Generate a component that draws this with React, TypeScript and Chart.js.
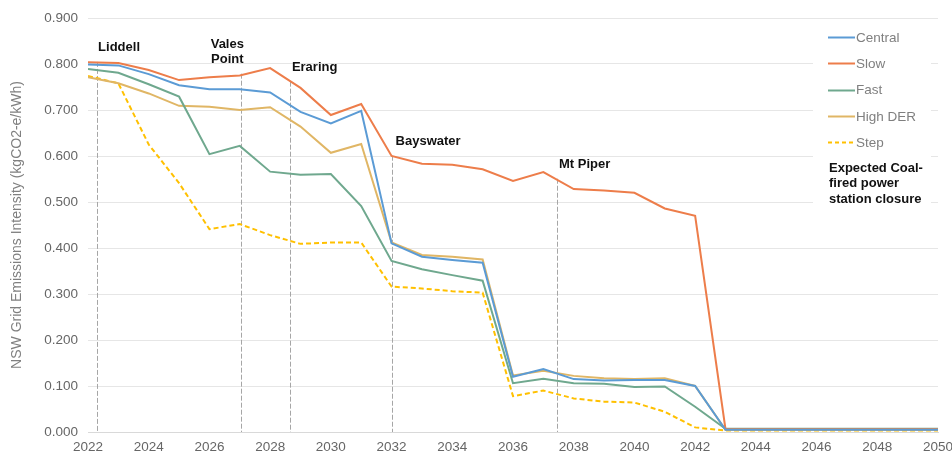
import React, { useEffect, useRef } from "react";
import { Chart, registerables } from "chart.js";

Chart.register(...registerables);

const years = [2022, 2023, 2024, 2025, 2026, 2027, 2028, 2029, 2030, 2031, 2032, 2033, 2034, 2035, 2036, 2037, 2038, 2039, 2040, 2041, 2042, 2043, 2044, 2045, 2046, 2047, 2048, 2049, 2050];

const central = [0.799, 0.797, 0.778, 0.754, 0.745, 0.745, 0.738, 0.696, 0.671, 0.698, 0.410, 0.381, 0.374, 0.368, 0.120, 0.137, 0.115, 0.112, 0.113, 0.113, 0.100, 0.005, 0.005, 0.005, 0.005, 0.005, 0.005, 0.005, 0.005];
const slow = [0.804, 0.802, 0.787, 0.765, 0.771, 0.775, 0.791, 0.748, 0.689, 0.713, 0.600, 0.583, 0.581, 0.571, 0.546, 0.565, 0.528, 0.525, 0.520, 0.486, 0.470, 0.006, 0.006, 0.006, 0.006, 0.006, 0.006, 0.006, 0.006];
const fast = [0.789, 0.781, 0.756, 0.729, 0.604, 0.622, 0.566, 0.559, 0.561, 0.491, 0.372, 0.354, 0.341, 0.329, 0.106, 0.116, 0.106, 0.105, 0.098, 0.099, 0.055, 0.007, 0.007, 0.007, 0.007, 0.007, 0.007, 0.007, 0.007];
const highDer = [0.771, 0.758, 0.736, 0.709, 0.707, 0.700, 0.706, 0.664, 0.607, 0.626, 0.412, 0.385, 0.381, 0.375, 0.123, 0.133, 0.122, 0.117, 0.115, 0.117, 0.100, 0.005, 0.005, 0.005, 0.005, 0.005, 0.005, 0.005, 0.005];
const step = [0.774, 0.758, 0.625, 0.541, 0.441, 0.452, 0.428, 0.409, 0.412, 0.412, 0.316, 0.312, 0.306, 0.303, 0.078, 0.090, 0.073, 0.066, 0.064, 0.044, 0.010, 0.003, 0.003, 0.003, 0.003, 0.003, 0.003, 0.003, 0.003];

const seriesNames = ["Central", "Slow", "Fast", "High DER", "Step"];
const seriesColors = ["#5b9bd5", "#ed7d4a", "#6fa88e", "#e0b665", "#ffc000"];

const closureNames = ["Liddell", "Vales\nPoint", "Eraring", "Bayswater", "Mt Piper"];
const closureYears = [2022.3, 2027.05, 2028.65, 2032.0, 2037.45];
// label layout (value-axis height of first text line, x offset px, alignment)
const closureLabelValues = [0.835, 0.842, 0.792, 0.631, 0.581];
const closureLabelDx = [1, -14, 2, 4, 2];
const closureLabelAlign: CanvasTextAlign[] = ["left", "center", "left", "left", "left"];

const legendNote = ["Expected Coal-", "fired power", "station closure"];

const FONT = "'Liberation Sans', Arial, sans-serif";

export default function App() {
  const ref = useRef<HTMLCanvasElement | null>(null);

  useEffect(() => {
    if (!ref.current) return;
    const allData = [central, slow, fast, highDer, step];

    const overlay = {
      id: "overlay",
      beforeDatasetsDraw(chart: any) {
        const { ctx, scales, chartArea } = chart;
        const xs = scales.x;
        const ys = scales.y;
        ctx.save();
        closureYears.forEach((yr, i) => {
          const x = Math.round(xs.getPixelForValue(yr)) + 0.5;
          const lines = closureNames[i].split("\n");
          const labY = ys.getPixelForValue(closureLabelValues[i]);
          const top = labY + (lines.length - 1) * 15 + 14;
          ctx.strokeStyle = "#a6a6a6";
          ctx.lineWidth = 1;
          ctx.setLineDash([5, 2]);
          ctx.beginPath();
          ctx.moveTo(x, top);
          ctx.lineTo(x, chartArea.bottom);
          ctx.stroke();
        });
        ctx.restore();
      },
      afterDatasetsDraw(chart: any) {
        const { ctx, scales } = chart;
        const xs = scales.x;
        const ys = scales.y;
        ctx.save();
        ctx.setLineDash([]);
        ctx.font = "bold 13px " + FONT;
        ctx.fillStyle = "#111";
        ctx.textBaseline = "middle";
        closureYears.forEach((yr, i) => {
          const x = xs.getPixelForValue(yr) + closureLabelDx[i];
          const labY = ys.getPixelForValue(closureLabelValues[i]);
          ctx.textAlign = closureLabelAlign[i];
          closureNames[i].split("\n").forEach((t, j) => {
            ctx.fillText(t, x, labY + j * 15);
          });
        });

        // legend
        const lx = 828;
        ctx.fillStyle = "#ffffff";
        ctx.fillRect(813, 24, 118, 190);
        seriesNames.forEach((name, i) => {
          const y = 37 + i * 26.3;
          ctx.strokeStyle = seriesColors[i];
          ctx.lineWidth = 2;
          ctx.setLineDash(i === 4 ? [4, 3] : []);
          ctx.beginPath();
          ctx.moveTo(lx, Math.round(y) + 0.5);
          ctx.lineTo(lx + 27, Math.round(y) + 0.5);
          ctx.stroke();
          ctx.setLineDash([]);
          ctx.fillStyle = "#7f7f7f";
          ctx.font = "13.5px " + FONT;
          ctx.textAlign = "left";
          ctx.fillText(name, lx + 28, y + 1);
        });
        ctx.fillStyle = "#111";
        ctx.font = "bold 13px " + FONT;
        legendNote.forEach((t, j) => {
          ctx.fillText(t, lx + 1, 168 + j * 15.5);
        });
        ctx.restore();
      },
    };

    const chart = new Chart(ref.current, {
      type: "line",
      data: {
        datasets: allData.map((d, i) => ({
          label: seriesNames[i],
          data: d.map((v, k) => ({ x: years[k], y: v })),
          borderColor: seriesColors[i],
          backgroundColor: seriesColors[i],
          borderWidth: 2,
          borderDash: i === 4 ? [5, 3] : [],
          pointRadius: 0,
          tension: 0,
          fill: false,
        })),
      },
      options: {
        animation: false,
        responsive: true,
        maintainAspectRatio: false,
        layout: { padding: { top: 18, right: 14, left: 0, bottom: 0 } },
        plugins: {
          legend: { display: false },
          tooltip: { enabled: false },
        },
        scales: {
          x: {
            type: "linear",
            min: 2022,
            max: 2050,
            ticks: {
              stepSize: 2,
              color: "#666",
              font: { family: FONT, size: 13.5 },
              padding: 7,
              maxRotation: 0,
              callback: (v: any) => String(v),
            },
            grid: { display: false, drawTicks: false },
            border: { display: true, color: "#d9d9d9", width: 1 },
            afterFit: (s: any) => {
              s.height = 20;
              s.paddingLeft = 0;
              s.paddingRight = 0;
            },
          },
          y: {
            min: 0,
            max: 0.9,
            ticks: {
              stepSize: 0.1,
              color: "#666",
              font: { family: FONT, size: 13.5 },
              padding: 10,
              callback: (v: any) => Number(v).toFixed(3),
            },
            grid: { color: "#e6e6e6", drawTicks: false },
            border: { display: false },
            title: {
              display: true,
              text: "NSW Grid Emissions Intensity (kgCO2-e/kWh)",
              color: "#808080",
              font: { family: FONT, size: 14 },
              padding: { top: 9, bottom: 0 },
            },
            afterFit: (s: any) => {
              s.width = 88;
              s.paddingTop = 0;
              s.paddingBottom = 0;
            },
          },
        },
      },
      plugins: [overlay],
    });
    return () => chart.destroy();
  }, []);

  return (
    <div style={{ position: "fixed", left: 0, top: 0, width: 952, height: 452, background: "#fff" }}>
      <canvas ref={ref} />
    </div>
  );
}
